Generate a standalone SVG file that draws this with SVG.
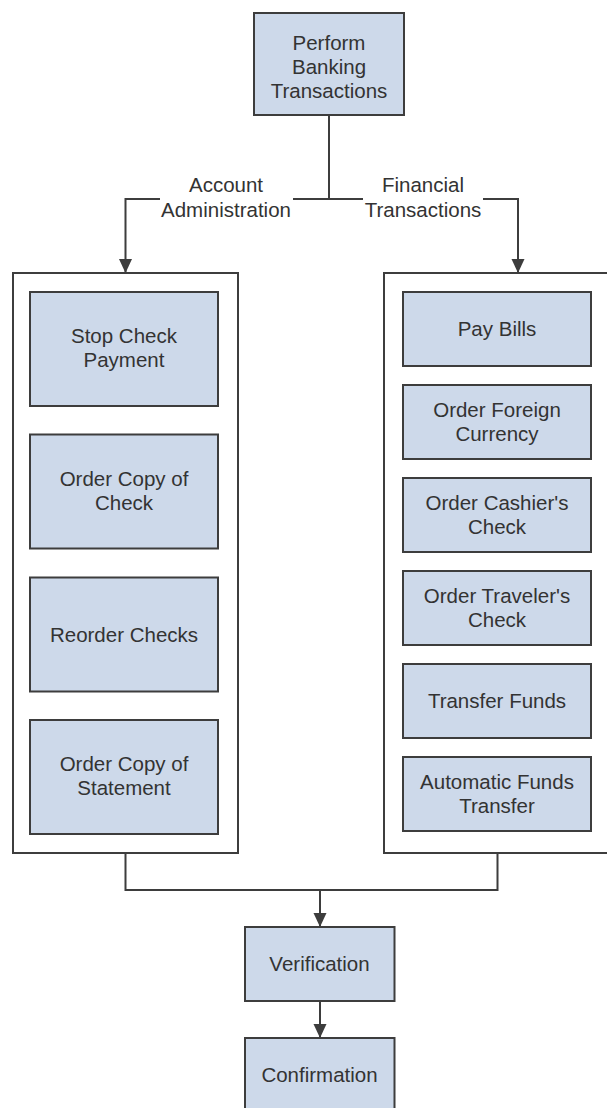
<svg xmlns="http://www.w3.org/2000/svg" width="607" height="1108" viewBox="0 0 607 1108">
  <style>
    .box { fill: #cdd9ea; stroke: #3d3d3d; stroke-width: 2; }
    .frame { fill: #ffffff; stroke: #3d3d3d; stroke-width: 2; }
    .link { fill: none; stroke: #3d3d3d; stroke-width: 2; }
    text { font-family: "Liberation Sans", Arial, sans-serif; font-size: 20.5px; fill: #333333; text-anchor: middle; }
  </style>
  <defs>
    <marker id="arrow" viewBox="0 0 14 14" refX="14" refY="7" markerWidth="14" markerHeight="14" markerUnits="userSpaceOnUse" orient="auto">
      <path d="M0,0.5 L14,7 L0,13.5 Z" fill="#3d3d3d"/>
    </marker>
  </defs>
  <rect width="607" height="1108" fill="#ffffff"/>

  <!-- connectors -->
  <g id="connectors">
    <path class="link" d="M329,115 V199"/>
    <path class="link" d="M293,199 H363"/>
    <path class="link" d="M160,199 H125.5 V273" marker-end="url(#arrow)"/>
    <path class="link" d="M483,199 H518 V273" marker-end="url(#arrow)"/>
    <path class="link" d="M125.5,853 V890 H497.5 V853"/>
    <path class="link" d="M320,890 V927" marker-end="url(#arrow)"/>
    <path class="link" d="M320,1001 V1038" marker-end="url(#arrow)"/>
    <text x="226" y="192">Account</text>
    <text x="226" y="217">Administration</text>
    <text x="423" y="192">Financial</text>
    <text x="423" y="217">Transactions</text>
  </g>

  <!-- top node -->
  <g id="perform-banking">
    <rect class="box" x="254" y="13" width="150" height="102"/>
    <text x="329" y="50">Perform</text>
    <text x="329" y="74">Banking</text>
    <text x="329" y="98">Transactions</text>
  </g>

  <!-- account administration group -->
  <g id="account-administration">
    <rect class="frame" x="13" y="273" width="225" height="580"/>
    <g id="stop-check-payment">
      <rect class="box" x="30" y="292" width="188" height="114"/>
      <text x="124" y="343">Stop Check</text>
      <text x="124" y="367">Payment</text>
    </g>
    <g id="order-copy-check">
      <rect class="box" x="30" y="434.5" width="188" height="114"/>
      <text x="124" y="485.5">Order Copy of</text>
      <text x="124" y="509.5">Check</text>
    </g>
    <g id="reorder-checks">
      <rect class="box" x="30" y="577.5" width="188" height="114"/>
      <text x="124" y="641.5">Reorder Checks</text>
    </g>
    <g id="order-copy-statement">
      <rect class="box" x="30" y="720" width="188" height="114"/>
      <text x="124" y="771">Order Copy of</text>
      <text x="124" y="795">Statement</text>
    </g>
  </g>

  <!-- financial transactions group -->
  <g id="financial-transactions">
    <rect class="frame" x="384" y="273" width="226" height="580"/>
    <g id="pay-bills">
      <rect class="box" x="403" y="292" width="188" height="74"/>
      <text x="497" y="336">Pay Bills</text>
    </g>
    <g id="order-foreign-currency">
      <rect class="box" x="403" y="385" width="188" height="74"/>
      <text x="497" y="417">Order Foreign</text>
      <text x="497" y="441">Currency</text>
    </g>
    <g id="order-cashiers-check">
      <rect class="box" x="403" y="478" width="188" height="74"/>
      <text x="497" y="510">Order Cashier's</text>
      <text x="497" y="534">Check</text>
    </g>
    <g id="order-travelers-check">
      <rect class="box" x="403" y="571" width="188" height="74"/>
      <text x="497" y="603">Order Traveler's</text>
      <text x="497" y="627">Check</text>
    </g>
    <g id="transfer-funds">
      <rect class="box" x="403" y="664" width="188" height="74"/>
      <text x="497" y="708">Transfer Funds</text>
    </g>
    <g id="automatic-funds-transfer">
      <rect class="box" x="403" y="757" width="188" height="74"/>
      <text x="497" y="789">Automatic Funds</text>
      <text x="497" y="813">Transfer</text>
    </g>
  </g>

  <g id="verification">
    <rect class="box" x="245" y="927" width="149.5" height="74"/>
    <text x="319.5" y="971">Verification</text>
  </g>

  <g id="confirmation">
    <rect class="box" x="245" y="1038" width="149.5" height="74"/>
    <text x="319.5" y="1082">Confirmation</text>
  </g>
</svg>
